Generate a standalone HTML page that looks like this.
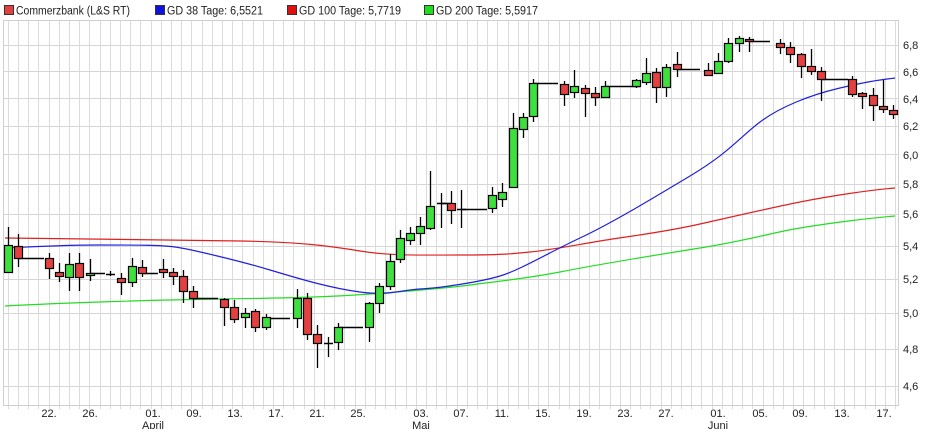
<!DOCTYPE html>
<html><head><meta charset="utf-8">
<style>
html,body{margin:0;padding:0;background:#fff;}
body{width:930px;height:429px;overflow:hidden;font-family:"Liberation Sans",Arial,sans-serif;}
svg text{font-family:"Liberation Sans",Arial,sans-serif;fill:#222;}
</style></head><body>
<svg id="c" width="930" height="429" viewBox="0 0 930 429" xmlns="http://www.w3.org/2000/svg">
<rect x="0" y="0" width="930" height="429" fill="#fff"/>
<g id="grid"></g>
<rect x="3.5" y="20.5" width="895" height="385" fill="none" stroke="#cfcfcf"/>
<!-- legend -->
<rect x="4.5" y="5.5" width="9" height="9" fill="#e04040" stroke="#333"/>
<text x="16" y="14.5" font-size="11.5" textLength="114" lengthAdjust="spacingAndGlyphs">Commerzbank (L&amp;S RT)</text>
<rect x="155.5" y="5.5" width="9" height="9" fill="#1010e0" stroke="#333"/>
<text x="167" y="14.5" font-size="11.5" textLength="96" lengthAdjust="spacingAndGlyphs">GD 38 Tage: 6,5521</text>
<rect x="287.5" y="5.5" width="9" height="9" fill="#e01010" stroke="#333"/>
<text x="299" y="14.5" font-size="11.5" textLength="102" lengthAdjust="spacingAndGlyphs">GD 100 Tage: 5,7719</text>
<rect x="424.5" y="5.5" width="9" height="9" fill="#20dd20" stroke="#333"/>
<text x="436" y="14.5" font-size="11.5" textLength="102" lengthAdjust="spacingAndGlyphs">GD 200 Tage: 5,5917</text>
<!-- y labels -->
<g font-size="11">
<text x="903" y="49">6,8</text>
<text x="903" y="76">6,6</text>
<text x="903" y="103">6,4</text>
<text x="903" y="130">6,2</text>
<text x="903" y="159">6,0</text>
<text x="903" y="188">5,8</text>
<text x="903" y="218">5,6</text>
<text x="903" y="250">5,4</text>
<text x="903" y="283">5,2</text>
<text x="903" y="317">5,0</text>
<text x="903" y="353">4,8</text>
<text x="903" y="390">4,6</text>
</g>
<!-- x labels -->
<g font-size="11" text-anchor="middle">
<text x="49" y="417">22.</text>
<text x="90" y="417">26.</text>
<text x="153" y="417">01.</text>
<text x="194" y="417">09.</text>
<text x="235" y="417">13.</text>
<text x="276" y="417">17.</text>
<text x="317" y="417">21.</text>
<text x="358" y="417">25.</text>
<text x="421" y="417">03.</text>
<text x="461" y="417">07.</text>
<text x="502" y="417">11.</text>
<text x="543" y="417">15.</text>
<text x="584" y="417">19.</text>
<text x="625" y="417">23.</text>
<text x="666" y="417">27.</text>
<text x="718" y="417">01.</text>
<text x="760" y="417">05.</text>
<text x="800" y="417">09.</text>
<text x="842" y="417">13.</text>
<text x="884" y="417">17.</text>
<text x="153" y="429">April</text>
<text x="421" y="429">Mai</text>
<text x="718" y="429">Juni</text>
</g>
<g id="ma" fill="none" stroke-width="1.2">
<path stroke="#22dd22" d="M5,306 C60,303 150,300 220,299 S330,297 370,294 S440,289 470,285 S530,278 560,272 S650,256 700,248 S770,233 800,228 S870,218 895,216"/>
<path stroke="#e02020" d="M5,238 C80,239 180,240 240,241 S330,246 360,251 S420,255 460,255 S510,254 530,252 S570,246 600,241 S660,233 700,224 S770,208 800,202 S870,190 895,188"/>
<path stroke="#2020dd" d="M5,248 C30,247 60,245 100,245 S160,245 175,247 S240,261 270,270 S330,288 360,292 S400,290 420,289 S480,282 500,276 S550,252 580,238 S650,200 690,176 S740,137 760,122 S810,95 840,88 S880,80 895,78"/>
</g>
<g id="cd"></g>
</svg>
<script>
var NS="http://www.w3.org/2000/svg";
function el(p,n,a){var e=document.createElementNS(NS,n);for(var k in a)e.setAttribute(k,a[k]);p.appendChild(e);return e;}
var g=document.getElementById('grid');
for(var k=-1;k<=86;k++){var x=Math.round(18+10.2*k)+0.5;if(x<5)continue;el(g,'line',{x1:x,y1:21,x2:x,y2:409,stroke:'#dcdcdc','stroke-width':1});}
var ys=[6.8,6.6,6.4,6.2,6.0,5.8,5.6,5.4,5.2,5.0,4.8,4.6];
ys.forEach(function(v){var y=Math.round(45+873*Math.log(6.8/v))+0.5;el(g,'line',{x1:4,y1:y,x2:898,y2:y,stroke:'#d6d6d6','stroke-width':1});});
var cd=document.getElementById('cd');
var flats=[[18,44,258],[90,105,273],[142,158,273],[193,218,298],[266,290,318],[338,363,327],[441,451,203],[462,487,209],[533,558,83],[605,640,86],[677,700,69],[749,770,41],[821,848,79]];
flats.forEach(function(f){el(cd,'line',{x1:f[0],y1:f[2]+0.5,x2:f[1],y2:f[2]+0.5,stroke:'#000','stroke-width':1.5});});
var C=[[8,227,272,245,272,'g'],[18,234,267,246,258,'r'],[49,253,279,258,268,'r'],[59,263,282,272,276,'r'],[69,253,291,264,277,'g'],[79,253,291,263,277,'r'],[90,259,281,273,275,'g'],[110,271,276,274,274,'d'],[121,273,295,278,282,'r'],[132,258,287,266,282,'g'],[142,260,277,267,273,'r'],[163,259,278,269,272,'r'],[173,268,285,272,276,'r'],[183,270,303,276,291,'r'],[193,286,308,291,298,'r'],[224,298,326,299,307,'r'],[234,300,323,307,319,'r'],[245,308,328,313,317,'g'],[255,309,332,311,327,'r'],[266,314,330,317,327,'g'],[297,289,328,298,318,'g'],[307,293,340,298,334,'r'],[317,325,368,334,343,'r'],[328,337,357,343,343,'d'],[338,323,350,327,342,'g'],[369,302,342,303,327,'g'],[379,283,313,286,303,'g'],[390,254,290,261,286,'g'],[400,230,263,238,259,'g'],[410,227,245,233,240,'g'],[420,217,245,226,233,'g'],[430,171,230,206,228,'g'],[441,193,228,203,203,'d'],[451,191,224,203,210,'r'],[461,190,228,209,209,'d'],[492,187,213,195,208,'g'],[502,183,207,192,199,'g'],[513,113,188,128,187,'g'],[523,113,138,117,129,'g'],[533,79,122,83,116,'g'],[564,81,106,84,94,'r'],[574,70,98,86,92,'g'],[585,85,117,88,93,'r'],[595,87,106,93,97,'r'],[605,81,98,86,97,'g'],[636,79,88,80,86,'g'],[646,58,85,73,82,'g'],[656,68,103,72,87,'r'],[666,64,97,67,87,'g'],[677,52,77,64,69,'r'],[708,63,76,70,75,'r'],[718,53,73,61,73,'g'],[728,38,63,43,61,'g'],[739,36,52,38,43,'g'],[749,37,52,39,41,'r'],[780,39,54,43,47,'r'],[790,42,63,47,54,'r'],[801,53,78,54,66,'r'],[811,49,75,66,71,'r'],[821,67,101,71,79,'r'],[852,76,97,79,94,'r'],[862,92,109,93,96,'r'],[873,88,121,95,105,'r'],[883,80,113,106,109,'r'],[893,105,119,110,114,'r']];
C.forEach(function(c){
 var x=c[0];
 el(cd,'line',{x1:x+0.5,y1:c[1],x2:x+0.5,y2:c[2],stroke:'#000','stroke-width':1.3});
 if(c[5]=='d'){el(cd,'line',{x1:x-4,y1:c[3]+0.5,x2:x+5,y2:c[3]+0.5,stroke:'#000','stroke-width':1.5});return;}
 var h=Math.max(2,c[4]-c[3]);
 el(cd,'rect',{x:x-3.5,y:c[3]+0.5,width:8,height:h,fill:c[5]=='g'?'#3de03d':'#e44040',stroke:'#000','stroke-width':1.2});
});
</script>
</body></html>
